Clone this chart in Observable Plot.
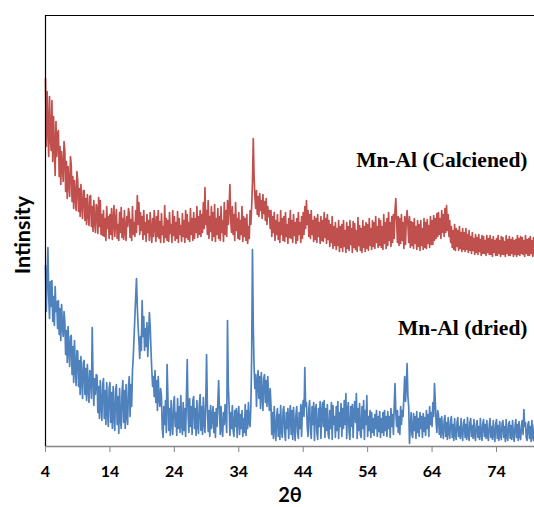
<!DOCTYPE html>
<html>
<head>
<meta charset="utf-8">
<script src="https://cdn.jsdelivr.net/npm/d3@7"></script>
<script src="https://cdn.jsdelivr.net/npm/@observablehq/plot@0.6"></script>
<style>
  html, body { margin: 0; padding: 0; background: #fff; }
  #chart svg { display: block; }
  .series-label text { font-family: "Liberation Serif", "Times New Roman", serif !important; }
</style>
</head>
<body>
<div id="chart"></div>
<script>
// Scan grid (2θ, degrees): first angle and step of the recorded patterns
const scanStart = 4;
const scanStep = 0.125;

// Mn-Al (Calciened) intensities (arbitrary units), one row per degree (8 samples each)
const calcined = [
  368, 300, 355, 320, 290, 350, 310, 296,
  346, 285, 330, 300, 271, 325, 290, 312,
  316, 270, 300, 262, 295, 280, 265, 305,
  296, 255, 285, 248, 280, 262, 250, 290,
  281, 245, 270, 238, 266, 250, 236, 275,
  266, 235, 258, 230, 262, 240, 228, 256,
  256, 226, 248, 222, 252, 232, 221, 250,
  251, 220, 240, 215, 246, 225, 214, 242,
  238, 213, 249, 220, 246, 212, 232, 211,
  236, 210, 228, 206, 240, 218, 230, 208,
  232, 212, 238, 207, 226, 241, 210, 224,
  237, 208, 222, 206, 234, 214, 239, 209,
  228, 207, 236, 215, 206, 230, 220, 238,
  233, 209, 227, 206, 240, 212, 224, 210,
  236, 214, 251, 222, 244, 212, 234, 216,
  230, 207, 236, 212, 224, 205, 232, 214,
  226, 206, 234, 215, 204, 228, 210, 236,
  222, 205, 230, 210, 236, 208, 225, 204,
  233, 212, 220, 204, 241, 209, 228, 206,
  226, 205, 234, 213, 222, 204, 236, 211,
  230, 206, 224, 208, 235, 204, 228, 212,
  221, 205, 233, 210, 226, 204, 236, 209,
  232, 207, 224, 205, 238, 212, 228, 206,
  234, 208, 228, 214, 240, 209, 230, 212,
  236, 210, 232, 214, 244, 218, 259, 222,
  236, 212, 246, 208, 230, 215, 240, 206,
  234, 210, 242, 205, 228, 212, 238, 208,
  230, 206, 240, 214, 226, 205, 244, 212,
  236, 210, 246, 222, 238, 262, 226, 214,
  240, 212, 232, 206, 244, 216, 228, 208,
  234, 207, 226, 212, 240, 205, 230, 210,
  228, 206, 232, 203, 220, 208, 236, 222,
  240, 264, 308, 270, 250, 238, 256, 232,
  250, 230, 253, 236, 246, 228, 252, 233,
  245, 226, 248, 222, 240, 230, 236, 218,
  236, 210, 230, 214, 234, 206, 226, 212,
  232, 207, 224, 204, 236, 212, 228, 206,
  230, 205, 234, 210, 222, 203, 228, 209,
  236, 208, 226, 204, 232, 211, 224, 203,
  228, 206, 234, 212, 224, 204, 230, 208,
  234, 212, 240, 218, 246, 222, 236, 210,
  232, 208, 236, 212, 226, 205, 230, 207,
  228, 204, 232, 210, 224, 203, 230, 206,
  226, 205, 234, 209, 228, 203, 232, 207,
  226, 200, 222, 204, 230, 198, 220, 201,
  224, 197, 218, 201, 226, 195, 220, 199,
  222, 195, 226, 200, 216, 194, 224, 198,
  220, 196, 226, 202, 218, 194, 225, 199,
  223, 197, 216, 195, 229, 201, 221, 196,
  218, 194, 226, 199, 220, 195, 224, 198,
  222, 196, 228, 201, 218, 197, 226, 200,
  224, 198, 230, 204, 220, 199, 228, 201,
  226, 199, 220, 197, 232, 203, 224, 198,
  228, 201, 234, 206, 224, 200, 230, 204,
  232, 208, 236, 248, 226, 204, 230, 201,
  228, 203, 232, 206, 224, 198, 230, 202,
  226, 236, 222, 204, 230, 199, 225, 201,
  224, 198, 228, 203, 220, 197, 226, 200,
  222, 196, 226, 201, 218, 197, 228, 199,
  224, 198, 227, 203, 221, 199, 230, 202,
  226, 202, 231, 206, 228, 208, 233, 210,
  234, 212, 228, 208, 236, 214, 232, 210,
  238, 214, 241, 216, 232, 210, 226, 204,
  220, 199, 216, 197, 222, 196, 218, 200,
  216, 196, 220, 198, 214, 195, 218, 197,
  214, 195, 218, 197, 212, 194, 216, 196,
  210, 193, 214, 196, 208, 192, 212, 194,
  209, 192, 212, 195, 207, 191, 211, 193,
  210, 193, 206, 191, 211, 194, 208, 192,
  211, 192, 207, 190, 210, 194, 206, 191,
  208, 191, 211, 193, 206, 190, 210, 192,
  209, 192, 205, 190, 211, 193, 207, 191,
  210, 191, 207, 193, 209, 190, 206, 192,
  207, 190, 211, 192, 208, 191, 210, 193,
  209, 192, 206, 190, 211, 193, 207, 191,
  208, 191, 210, 193, 206, 190, 209, 192,
  208
];

// Mn-Al (dried) intensities (arbitrary units), one row per degree (8 samples each)
const dried = [
  181, 135, 170, 199, 150, 128, 165, 140,
  166, 125, 150, 121, 160, 135, 145, 118,
  146, 112, 138, 106, 142, 120, 110, 135,
  125,  92, 116,  84, 120,  98,  80, 110,
  111,  72, 100,  64, 106,  78,  61,  96,
   95,  60,  86,  52,  90,  66,  48,  84,
   86,  52,  78,  46,  82,  58,  44,  76,
   74,  48, 119,  70,  41,  68,  52,  72,
   71,  34,  60,  28,  66,  40,  26,  62,
   68,  28,  56,  22,  64,  36,  20,  58,
   64,  24,  54,  18,  60,  30,  16,  56,
   62,  22,  50,  13,  58,  28,  18,  54,
   66,  24,  56,  18,  62,  30,  22,  60,
   70,  30,  62,  40,  76,  90, 110, 130,
  150, 168, 140, 120, 106,  88, 110,  96,
  146, 110, 130,  96, 118, 100, 124,  90,
  110, 134, 120,  96,  76,  60,  70,  50,
   76,  44,  66,  36,  70,  48,  40,  58,
   50,  18,   9,  40,  22,  46,  14,  82,
   48,  16,  38,  11,  46,  24,  12,  42,
   50,  20,  34,  11,  48,  18,  40,  14,
   51,  22,  12,  44,  16,  38,  10,  50,
   87,  34,  14,  48,  20,  40,  12,  46,
   50,  18,  38,  11,  46,  22,  13,  42,
   52,  16,  40,  12,  49,  24,  14,  44,
   92,  40,  15,  36,  10,  41,  18,  30,
   40,  14,  34,   9,  38,  20,  44,  66,
   36,  12,  40,  18,  10,  34,  22,  42,
   30,  14, 126,  60,  40,  11,  34,  18,
   41,  16,  10,  36,  20,  38,   9,  30,
   40,  12,  32,  18,  36,  10,  28,  14,
   42,  11,  36,  18,  44,  24,  20,  40,
   90, 197, 120,  80,  58,  72,  40,  66,
   76,  48,  70,  38,  74,  52,  36,  68,
   72,  44,  66,  40,  70,  50,  36,  58,
   41,  12,  34,   8,  40,  18,   6,  30,
   38,  10,  32,   7,  41,  16,   9,  36,
   40,  14,   6,  34,  18,  38,   8,  30,
   41,  12,  36,   7,  39,  20,   6,  32,
   40,  14,   8,  34,  18,  42,  10,  38,
   46,  30,  79,  40,  44,  20,  10,  38,
   46,  16,   8,  40,  22,  44,   6,  36,
   42,  14,   7,  38,  20,  45,   8,  34,
   44,  20,  46,   9,  38,  16,  42,  12,
    8,  36,  18,  44,   7,  41,  22,  30,
    9,  40,  16,  45,   8,  34,  20,  43,
   10,  38,  18,  46,  22,  53,   8,  36,
   44,  14,   7,  40,  20,  42,   9,  34,
   45,  24,  53,   8,  38,  16,  43,  12,
    9,  40,  18,  46,   7,  36,  22,  51,
   10,  30,  16,  36,   9,  34,  14,  28,
   11,  32,  18,  36,  10,  30,  15,  35,
    9,  28,  14,  34,  11,  36,  16,  30,
   10,  35,  18,  30,   9,  38,  20,  32,
   12,  40,  63,  34,  20,  36,  14,  30,
   12,  40,  22,  36,  30,  50,  70,  45,
   60,  83,  50,  40,   3,  20,  34,  12,
    9,  33,  16,  30,   8,  35,  14,  28,
   10,  34,  18,  30,   9,  33,  15,  29,
   11,  36,  18,  32,  10,  40,  22,  34,
   20,  44,  30,  63,  45,  24,  14,  36,
   31,  12,  28,   9,  30,  16,   8,  26,
   31,  10,  24,   7,  29,  14,   8,  25,
   30,   9,  22,   6,  28,  12,   7,  24,
   29,  10,  20,   8,  28,  13,   6,  23,
   27,   9,  22,   7,  29,  12,   6,  24,
   28,  10,  21,   8,  27,  11,   6,  22,
   26,   9,  20,   7,  28,  12,   6,  23,
   27,  10,  22,   8,  26,  11,   6,  21,
   28,   9,  20,   7,  26,  12,   5,  22,
   27,   8,  21,   6,  25,  11,   7,  23,
   26,   9,  20,   5,  27,  10,   6,  22,
   25,   8,  21,   7,  26,  11,   5,  20,
   27,   9,  22,   6,  25,  10,   7,  21,
   26,  12,  37,  20,  24,   9,   6,  22,
   25,   8,  20,   5,  26,  10,   6,  21,
   25
];

const xTicks = [4, 14, 24, 34, 44, 54, 64, 74];
const seriesLabels = ["Mn-Al (Calciened)", "Mn-Al (dried)"];
const axisLabels = { x: "2θ", y: "Intinsity" };

const toRows = (arr) => arr.map((v, i) => ({ theta: scanStart + i * scanStep, v }));
const calcRows = toRows(calcined);
const driedRows = toRows(dried);

const serif = "Liberation Serif";

const chart = Plot.plot({
  width: 534,
  height: 507,
  marginLeft: 45,
  marginRight: 0,
  marginTop: 15,
  marginBottom: 61,
  style: { fontFamily: "Lato, 'Open Sans', sans-serif", fontSize: "16px", fontWeight: "bold", color: "black", background: "white" },
  x: { domain: [4, 79.9] },
  y: { domain: [0, 431], axis: null },
  marks: [
    Plot.line(calcRows, { x: "theta", y: "v", stroke: "#C0504D", strokeWidth: 1.7 }),
    Plot.line(driedRows, { x: "theta", y: "v", stroke: "#4F81BD", strokeWidth: 1.7 }),
    Plot.ruleY([0], { stroke: "#868686", strokeWidth: 1.5 }),
    Plot.ruleY([431], { stroke: "black", strokeWidth: 1.2 }),
    Plot.ruleX([4], { stroke: "black", strokeWidth: 1.2 }),
    Plot.axisX({ ticks: xTicks, tickSize: 6, tickPadding: 13, stroke: "#868686", fill: "black", label: null, fontWeight: "bold" }),
    Plot.text([seriesLabels[0]], { x: 79.9, y: 286, text: d => d, textAnchor: "end", dx: -7, fontFamily: serif, fontSize: 21.5, fontWeight: "bold", fill: "black", className: "series-label" }),
    Plot.text([seriesLabels[1]], { x: 79.9, y: 118, text: d => d, textAnchor: "end", dx: -7, fontFamily: serif, fontSize: 21.5, fontWeight: "bold", fill: "black", className: "series-label" }),
    Plot.text([axisLabels.x], { frameAnchor: "bottom", textAnchor: "middle", lineAnchor: "middle", dy: 49, text: d => d, fontSize: 20, fontWeight: "bold", fill: "black" }),
    Plot.text([axisLabels.y], { frameAnchor: "left", textAnchor: "middle", lineAnchor: "middle", dx: -22, dy: 4, rotate: -90, text: d => d, fontSize: 21.5, fontWeight: "bold", fill: "black" })
  ]
});
document.getElementById("chart").appendChild(chart);
</script>
</body>
</html>
